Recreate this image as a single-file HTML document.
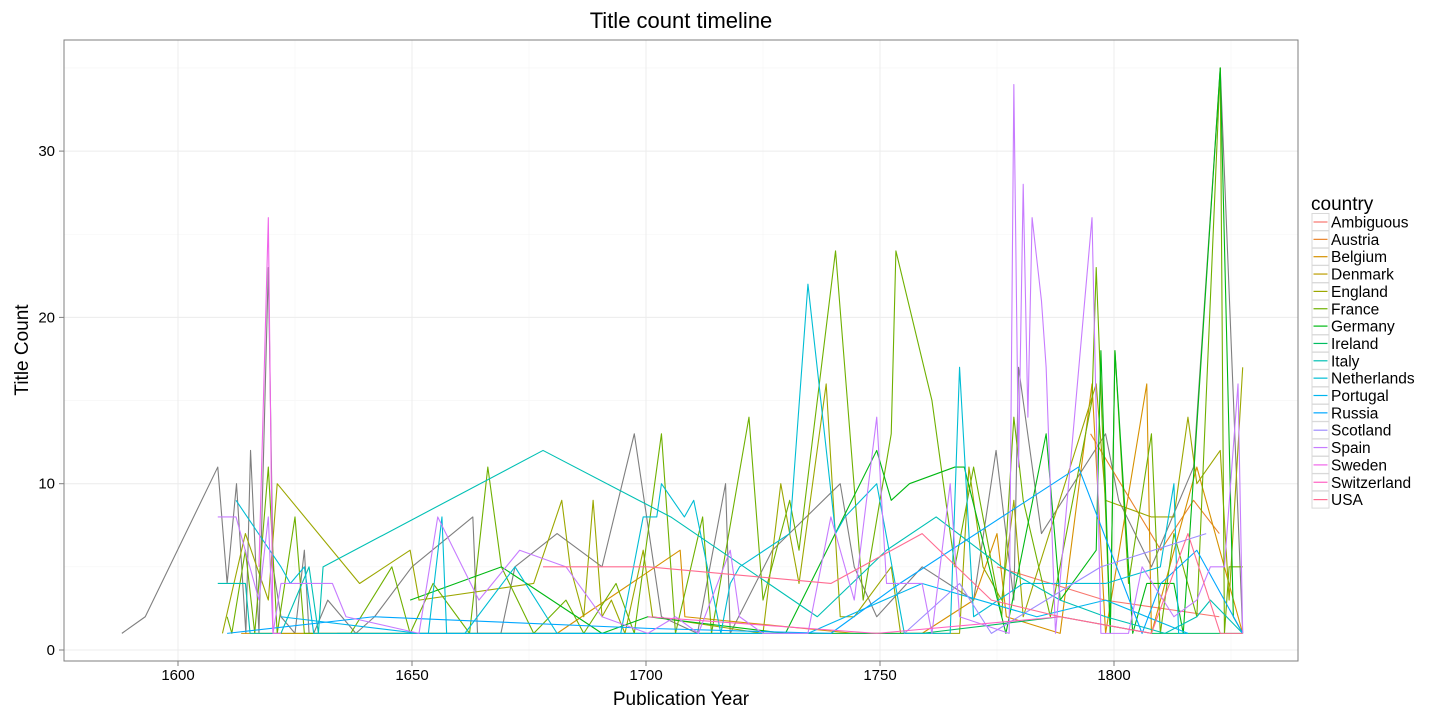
<!DOCTYPE html>
<html><head><meta charset="utf-8"><style>
body{margin:0;background:#fff;}
svg{display:block;font-family:"Liberation Sans",sans-serif;}
</style></head><body>
<svg id="chart" width="1440" height="720" xmlns="http://www.w3.org/2000/svg">
<text x="681" y="28" font-size="22" text-anchor="middle">Title count timeline</text>
<g id="grid"></g><g id="series"></g>
<rect x="64" y="40" width="1234" height="621" fill="none" stroke="#7f7f7f" stroke-width="1"/>
<g id="axes"></g>
<text x="681" y="705" font-size="19" text-anchor="middle">Publication Year</text>
<text transform="translate(28,350) rotate(-90)" font-size="19" text-anchor="middle">Title Count</text>
<g id="legend"></g>
</svg>
<script>
const xTicks=[1600,1650,1700,1750,1800];
const yTicks=[0,10,20,30];
const countries=["Ambiguous","Austria","Belgium","Denmark","England","France","Germany","Ireland","Italy","Netherlands","Portugal","Russia","Scotland","Spain","Sweden","Switzerland","USA"];
const colors=["#F8766D","#E9842C","#D69100","#BC9D00","#9CA700","#6FB000","#00B813","#00BD61","#00C0B4","#00BDD4","#00B5EE","#00A7FF","#9E8CFF","#C77CFF","#F066EA","#FF61C3","#FF6C91"];
const unknownSeries=[[1588,1],[1593,2],[1608.5,11],[1610.5,4],[1612.5,10],[1614.5,1],[1615.5,12],[1617.3,1],[1619.3,23],[1620.3,5],[1622,2],[1625,1],[1627,6],[1628,1],[1629,1],[1632,3],[1638,1],[1642,2],[1650,5],[1663,8],[1664,1],[1669,1],[1672,5],[1681,7],[1690.6,5],[1697.5,13],[1703.3,2],[1711,1],[1717,10],[1718,1],[1727,6],[1741.5,10],[1744.5,5],[1749.3,2],[1759,5],[1770,3],[1774.8,12],[1778.6,3],[1779.6,17],[1784.5,7],[1798.2,13],[1801,9],[1808,5],[1817,11],[1822.7,35],[1827.5,1]];
const seriesAmbiguous=[[1775,5],[1798,3],[1822.5,2]];
const seriesAustria=[[1795,13],[1810,6],[1817,9],[1822.5,7]];
const seriesBelgium=[[1613.5,1],[1671,1],[1681,1],[1707.3,6],[1708.3,2],[1744.5,1],[1759,1],[1770,3],[1775,7],[1777,2],[1788.5,1],[1795.3,16],[1798.2,1],[1807,16],[1808,1],[1817.7,11],[1827.5,1]];
const seriesDenmark=[[1617.3,1],[1661.3,1],[1700.4,1],[1720,1],[1739.5,1],[1759,1]];
const seriesEngland=[[1609.5,1],[1614.4,7],[1619.3,3],[1621.2,10],[1638.8,4],[1649.6,6],[1651.5,3],[1676,4],[1682,9],[1683.8,5],[1686.7,2],[1688.7,9],[1690.6,2],[1692.6,3],[1695.5,1],[1699.4,6],[1701.4,2],[1725,1],[1728.8,10],[1730.7,7],[1732.7,4],[1738.5,16],[1741.5,2],[1744.5,2],[1752.4,5],[1754.4,1],[1761.1,1],[1767,1],[1769,11],[1772,5],[1776,3],[1778.6,9],[1780.6,2],[1796.2,16],[1798.2,9],[1808,8],[1812.8,8],[1815.8,14],[1817.7,10],[1822.7,12],[1824.6,3],[1827.5,17]];
const seriesFrance=[[1610.5,2],[1611.5,1],[1614.4,6],[1616.4,1],[1619.3,11],[1621.2,1],[1625,8],[1627,1],[1636.9,1],[1645.7,5],[1649.6,1],[1654.5,4],[1662.3,1],[1666.2,11],[1669.1,5],[1676,1],[1682.9,3],[1686.7,1],[1693.6,4],[1697.5,1],[1703.3,13],[1706.3,1],[1712.1,8],[1714,1],[1722,14],[1725,3],[1730.7,9],[1732.7,6],[1740.5,24],[1746.4,3],[1752.4,13],[1753.4,24],[1761.1,15],[1766,5],[1770,11],[1776,2],[1778.6,14],[1780.6,9],[1786.4,2],[1795.3,15],[1796.2,23],[1799.2,1],[1800.2,18],[1803.1,4],[1808,13],[1809.9,1],[1812.8,7],[1817.7,2],[1822.7,35],[1823.6,1],[1824.6,5],[1827.5,5]];
const seriesGermany=[[1649.6,3],[1669.1,5],[1690.6,1],[1700.4,2],[1729.8,1],[1749.3,12],[1752.4,9],[1756.3,10],[1766,11],[1768,11],[1776.9,1],[1785.5,13],[1788.5,3],[1796.2,6],[1797.2,18],[1799.2,1],[1800.2,18],[1804,1],[1807,4],[1812.8,4],[1814.8,1],[1822.7,35],[1825.5,2],[1827.5,1]];
const seriesIreland=[[1634,1],[1700.4,1],[1759,1],[1788.5,2],[1808,1],[1827.5,1]];
const seriesItaly=[[1608.5,4],[1614.4,4],[1615.4,1],[1622,1],[1628,5],[1630,1],[1631,5],[1678,12],[1705.3,8],[1736.6,2],[1751.4,6],[1762,8],[1776,5],[1788.5,3],[1798.2,2],[1810.9,1],[1817.7,2],[1820.6,3],[1827.5,1]];
const seriesNetherlands=[[1612.4,9],[1622,5],[1624,4],[1627,5],[1629,1],[1635,1],[1642.8,1],[1653.5,1],[1656.4,8],[1657.4,1],[1661.3,1],[1672,5],[1681,1],[1694.6,1],[1699.4,8],[1702.3,8],[1703.3,10],[1708.2,8],[1710.2,9],[1716,1],[1718,4],[1720,5],[1730.7,7],[1734.6,22],[1740.5,7],[1742.5,8],[1749.3,10],[1755.2,1],[1765,1],[1767,17],[1770,2],[1780.6,4],[1798.2,4],[1809.9,5],[1812.8,10],[1813.8,1],[1815.8,1]];
const seriesPortugal=[[1622,2],[1651.5,1],[1700.4,1],[1734.6,1],[1759,4],[1783.5,2],[1798.2,3],[1815.8,1]];
const seriesRussia=[[1610.5,1],[1641.8,2],[1700.4,1.3],[1739.5,1],[1754.2,4],[1792.4,11],[1806,1],[1810,4],[1817.7,6],[1827.5,1]];
const seriesScotland=[[1755.2,1],[1767,4],[1773.8,1],[1797.2,5],[1819.7,7]];
const seriesSpain=[[1608.5,8],[1612.4,8],[1617.3,3],[1619.3,8],[1620.3,1],[1622,4],[1633,4],[1635.9,2],[1651.5,1],[1655.5,8],[1664.3,3],[1673,6],[1682.9,5],[1690.6,2],[1700.4,1],[1706.3,2],[1711.2,1],[1718,6],[1720,2],[1725,1],[1734.6,1],[1739.5,8],[1744.5,3],[1749.3,14],[1751.4,4],[1759,4],[1761.1,1],[1765,10],[1767,2],[1777.6,1],[1778.6,34],[1779.6,11],[1780.6,28],[1781.6,14],[1782.5,26],[1784.5,21],[1785.5,17],[1787.5,1],[1795.3,26],[1797.2,1],[1803.1,1],[1806,5],[1812.8,2],[1817.7,3],[1820.6,5],[1823.6,5],[1826.5,16],[1827.5,1]];
const seriesSweden=[[1617.3,5],[1619.3,26],[1620.3,1],[1622,1]];
const seriesSwitzerland=[[1700.4,2],[1749.3,1],[1788.5,2],[1808,1]];
const seriesUSA=[[1678,5],[1700.4,5],[1739.5,4],[1759,7],[1773.8,3],[1788.5,2],[1808,1],[1815.8,7],[1822.7,1],[1827.5,1]];
const allSeries=[seriesAmbiguous,seriesAustria,seriesBelgium,seriesDenmark,seriesEngland,seriesFrance,seriesGermany,seriesIreland,seriesItaly,seriesNetherlands,seriesPortugal,seriesRussia,seriesScotland,seriesSpain,seriesSweden,seriesSwitzerland,seriesUSA];

const NS="http://www.w3.org/2000/svg";
const xs=y=>178+(y-1600)*4.68;
const ys=v=>650-v*16.63;
function mk(tag,attrs,parent){const e=document.createElementNS(NS,tag);for(const k in attrs)e.setAttribute(k,attrs[k]);parent.appendChild(e);return e;}
const grid=document.getElementById('grid'),axes=document.getElementById('axes'),ser=document.getElementById('series'),leg=document.getElementById('legend');
for(let v=5;v<=35;v+=10){const l=mk('line',{x1:64,x2:1298,y1:ys(v),y2:ys(v),stroke:'#f5f5f5','stroke-width':0.6},grid);

}
for(let v=1575;v<=1825;v+=50){const l=mk('line',{x1:xs(v),x2:xs(v),y1:40,y2:661,stroke:'#f5f5f5','stroke-width':0.6},grid);

}
yTicks.forEach(v=>{const l=mk('line',{x1:64,x2:1298,y1:ys(v),y2:ys(v),stroke:'#ececec','stroke-width':1},grid);


const t=mk('text',{x:55,y:ys(v)+5,'font-size':15,'text-anchor':'end'},axes);t.textContent=v;


const k=mk('line',{x1:59,x2:64,y1:ys(v),y2:ys(v),stroke:'#7f7f7f'},axes);

});
xTicks.forEach(v=>{const l=mk('line',{x1:xs(v),x2:xs(v),y1:40,y2:661,stroke:'#ececec','stroke-width':1},grid);


const t=mk('text',{x:xs(v),y:680,'font-size':15,'text-anchor':'middle'},axes);t.textContent=v;


const k=mk('line',{x1:xs(v),x2:xs(v),y1:661,y2:666,stroke:'#7f7f7f'},axes);

});
function drawLine(data,color,name){const p=mk('polyline',{points:data.map(d=>xs(d[0])+','+ys(d[1])).join(' '),fill:'none',stroke:color,'stroke-width':1.1,'stroke-linejoin':'round'},ser);

}
drawLine(unknownSeries,'#7f7f7f','line-unknown');
allSeries.forEach((s,i)=>drawLine(s,colors[i],'line-'+countries[i].toLowerCase()));
const lt=mk('text',{x:1311,y:210,'font-size':19},leg);lt.textContent='country';


countries.forEach((c,i)=>{const cy=222+i*17.35;
const g=mk('g',{},leg);


mk('rect',{x:1312,y:cy-8.5,width:17,height:17,fill:'#fff',stroke:'#d9d9d9'},g);
mk('line',{x1:1313.5,x2:1327.5,y1:cy,y2:cy,stroke:colors[i],'stroke-width':1.2},g);
const t=mk('text',{x:1331,y:cy+5.5,'font-size':15.5},g);t.textContent=c;});
</script>
</body></html>
